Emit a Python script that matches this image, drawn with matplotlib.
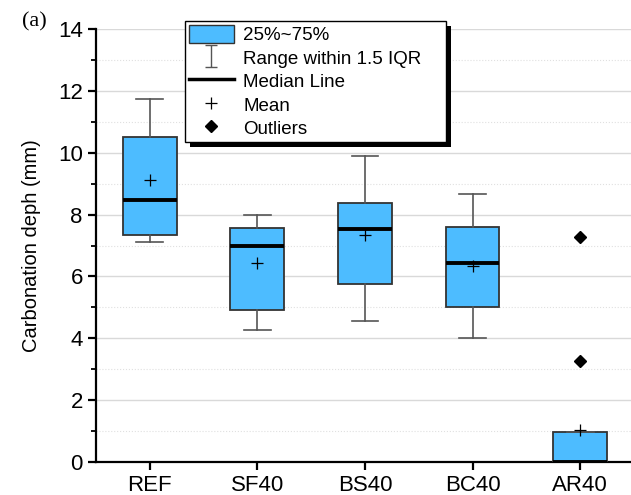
import matplotlib
matplotlib.use("Agg")
import matplotlib.pyplot as plt
from matplotlib.lines import Line2D
from matplotlib.patches import Patch, Rectangle
from matplotlib.path import Path

plt.rcParams["font.family"] = ["Liberation Sans", "DejaVu Sans"]

# box statistics (mm)
groups = ["REF", "SF40", "BS40", "BC40", "AR40"]
whisker_low = [7.10, 4.26, 4.56, 4.02, 0.0]
q1 = [7.35, 4.92, 5.77, 5.01, 0.0]
medians = [8.48, 7.00, 7.52, 6.45, 0.0]
q3 = [10.52, 7.58, 8.38, 7.60, 0.98]
whisker_high = [11.74, 8.00, 9.88, 8.67, 0.98]
means = [9.13, 6.45, 7.34, 6.33, 1.05]
outliers = [[], [], [], [], [7.28, 3.25]]

box_color = "#4dbcff"

fig = plt.figure(figsize=(6.31, 4.95), dpi=100)
ax = fig.add_axes([96 / 631, 1 - 462 / 495, 538 / 631, 433 / 495])

stats = []
for i in range(len(groups)):
    stats.append({
        "label": groups[i], "whislo": whisker_low[i], "q1": q1[i],
        "med": medians[i], "q3": q3[i], "whishi": whisker_high[i],
        "mean": means[i], "fliers": outliers[i],
    })

positions = list(range(1, len(groups) + 1))
ax.bxp(
    stats, positions=positions, widths=0.5, patch_artist=True,
    showmeans=True,
    boxprops=dict(facecolor=box_color, edgecolor="#333333", linewidth=1.3),
    whiskerprops=dict(color="#555555", linewidth=1.2),
    capprops=dict(color="#555555", linewidth=1.2),
    capwidths=0.25,
    medianprops=dict(color="black", linewidth=2.8),
    meanprops=dict(marker="+", markeredgecolor="black", markersize=9,
                   markeredgewidth=0.9),
    flierprops=dict(marker="D", markerfacecolor="black", markeredgecolor="black",
                    markersize=6),
    zorder=3,
)

ax.set_xlim(0.5, 5.5)
ax.set_ylim(0, 14)
ax.set_yticks(range(0, 15, 2))
ax.set_yticks(range(1, 15, 2), minor=True)
ax.set_xticks(positions)
ax.set_xticklabels(groups)
ax.grid(axis="y", which="major", color="#d9d9d9", linewidth=1.0, zorder=0)
ax.grid(axis="y", which="minor", color="#e0e0e0", linewidth=0.8, linestyle=":", zorder=0)
ax.set_axisbelow(True)

for side in ["top", "right"]:
    ax.spines[side].set_visible(False)
for side in ["left", "bottom"]:
    ax.spines[side].set_linewidth(1.6)
ax.tick_params(axis="both", which="major", direction="out", length=6, width=1.6,
               labelsize=16)
ax.tick_params(axis="y", which="minor", direction="out", length=3.5, width=1.3)
ax.set_ylabel("Carbonation deph (mm)", fontsize=14.5, labelpad=12)

fig.text(22 / 631, 1 - 22 / 495, "(a)", family="Liberation Serif", fontsize=16,
         ha="left", va="center")

# legend
ibeam = Path([(-0.5, 1), (0.5, 1), (0, 1), (0, -1), (-0.5, -1), (0.5, -1)],
             [Path.MOVETO, Path.LINETO, Path.MOVETO, Path.LINETO, Path.MOVETO, Path.LINETO])
handles = [
    Patch(facecolor=box_color, edgecolor="#333333", linewidth=1.0),
    Line2D([], [], linestyle="none", marker=ibeam, markersize=16,
           markeredgecolor="#555555", markeredgewidth=1.0),
    Line2D([], [], color="black", linewidth=2.5),
    Line2D([], [], linestyle="none", marker="+", markersize=9,
           markeredgecolor="black", markeredgewidth=0.9),
    Line2D([], [], linestyle="none", marker="D", markersize=6,
           markerfacecolor="black", markeredgecolor="black"),
]
labels = ["25%~75%", "Range within 1.5 IQR    ", "Median Line", "Mean", "Outliers"]
leg = fig.legend(handles, labels, loc="upper left",
                 bbox_to_anchor=(185 / 631, 1 - 21 / 495), borderaxespad=0,
                 fontsize=13.5, fancybox=False, framealpha=1, edgecolor="black",
                 borderpad=0.2, labelspacing=0.22, handlelength=2.4,
                 handleheight=1.1, handletextpad=0.5)
leg.get_frame().set_linewidth(1.0)
leg.set_zorder(10)

fig.canvas.draw()
bb = leg.get_window_extent().transformed(fig.transFigure.inverted())
dx, dy = 5 / 631, 5 / 495
fig.patches.append(Rectangle((bb.x0 + dx, bb.y0 - dy), bb.width, bb.height,
                             transform=fig.transFigure, facecolor="black",
                             edgecolor="none", zorder=9))

fig.savefig("out.png", dpi=100)
